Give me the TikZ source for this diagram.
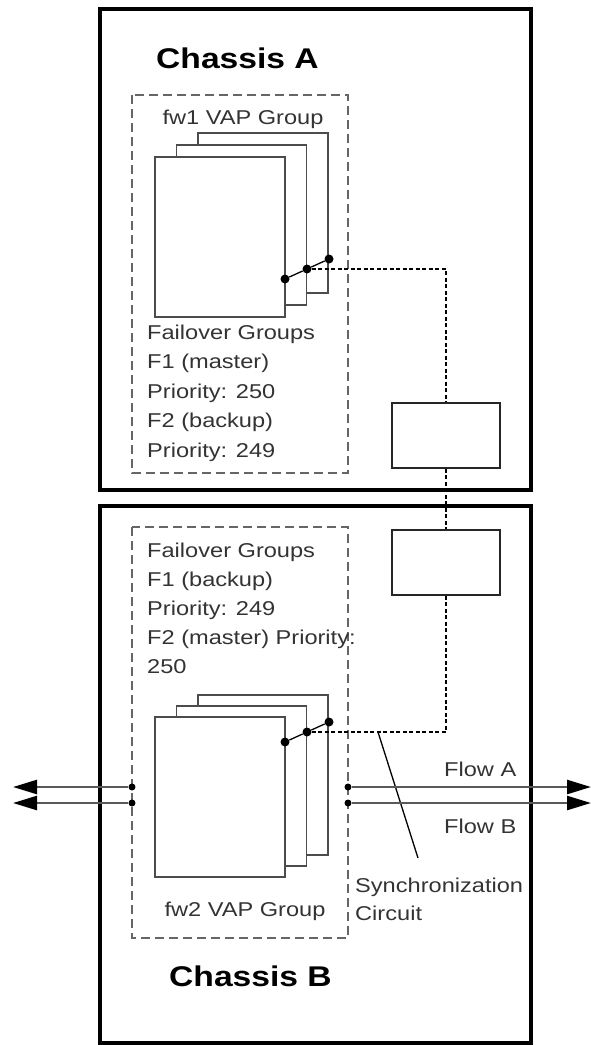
\documentclass[tikz,border=0pt]{standalone}
\usepackage{fontspec}
\setmainfont{Liberation Sans}[FakeStretch=1.18]
\usetikzlibrary{calc,arrows.meta}

\begin{document}
\begin{tikzpicture}[x=1pt,y=-1pt,
  chassis/.style={draw=black,line width=4.5pt},
  group/.style={draw=black!60,line width=1.6pt,dash pattern=on 9pt off 5pt},
  page/.style={draw=black!70,fill=white,line width=1.6pt,minimum width=130pt,minimum height=160pt,inner sep=0pt},
  syncbox/.style={draw=black!85,line width=1.6pt,minimum width=108pt,minimum height=65pt,inner sep=0pt},
  sync/.style={draw=black,line width=2.4pt,dash pattern=on 4pt off 2.5pt},
  flow/.style={draw=black!65,line width=2.4pt,-{Triangle[length=24pt,width=14pt,color=black]}},
  dot/.style={circle,fill=black,inner sep=0pt,minimum size=9pt},
  lbl/.style={font=\fontsize{20}{24}\selectfont,text=black!80,inner sep=0pt},
  title/.style={font=\fontsize{28.5}{32}\selectfont\bfseries,inner sep=0pt}]

\useasboundingbox (0,0) rectangle (591,1045);

% the two chassis
\draw[chassis] (100,9) rectangle (531,490);
\draw[chassis] (100,506) rectangle (531,1043);
\node[title,anchor=base west] (ca) at (156,68) {Chassis A};
\node[title,anchor=base west] (cb) at (169,986) {Chassis B};

% vap groups (dashed)
\draw[group] (132,95) rectangle (348,473);
\draw[group] (132,527) rectangle (348,938);
\node[lbl,anchor=base] (ga) at (243,124) {fw1 VAP Group};
\node[lbl,anchor=base] (gb) at (245,916) {fw2 VAP Group};

% stacked members, back one first
\foreach \k in {2,1,0}
{
\node[page] (a\k) at (220+21.5*\k,237-12*\k) {};
\node[page] (b\k) at (220+21.5*\k,797-11*\k) {};
}
\foreach \k in {0,1,2}
{
\node[dot] (da\k) at (285+22*\k,279-10*\k) {};
\node[dot] (db\k) at (285+22*\k,742-10*\k) {};
}
\draw[line width=1.3pt] (da0) -- (da1) -- (da2);
\draw[line width=1.3pt] (db0) -- (db1) -- (db2);

% failover group text
\foreach \t [count=\i from 0] in {Failover Groups,F1 (master),Priority: 250,F2 (backup),Priority: 249}
\node[lbl,anchor=base west] (fa\i) at (147,339+29.5*\i) {\t};
\foreach \t [count=\i from 0] in {Failover Groups,F1 (backup),Priority: 249,F2 (master) Priority:,250}
\node[lbl,anchor=base west] (fb\i) at (147,557+29*\i) {\t};

% synchronization circuit
\node[syncbox] (sa) at (446,435.5) {};
\node[syncbox] (sb) at (446,562.5) {};
\draw[sync] (da1) -| (sa);
\draw[sync] (sa) -- (sb);
\draw[sync] (sb) |- (db1);
\coordinate (sp) at (378,732);
\coordinate (sq) at (418,858);
\draw[line width=1.3pt] (sp) -- (sq);
\node[lbl,anchor=base west] (sl1) at (355,892) {Synchronization};
\node[lbl,anchor=base west] (sl2) at (355,920) {Circuit};

% traffic flows
\foreach \n/\y in {1/787,2/803}
{
\node[dot,minimum size=7pt] (fl\n) at (132,\y) {};
\node[dot,minimum size=7pt] (fr\n) at (348,\y) {};
\coordinate (tl\n) at (13,\y);
\coordinate (tr\n) at (591,\y);
\draw[flow] (fl\n) -- (tl\n);
\draw[flow] (fr\n) -- (tr\n);
}
\node[lbl,anchor=base west] (fwa) at (444,776) {Flow A};
\node[lbl,anchor=base west] (fwb) at (444,833) {Flow B};

\end{tikzpicture}
\end{document}
